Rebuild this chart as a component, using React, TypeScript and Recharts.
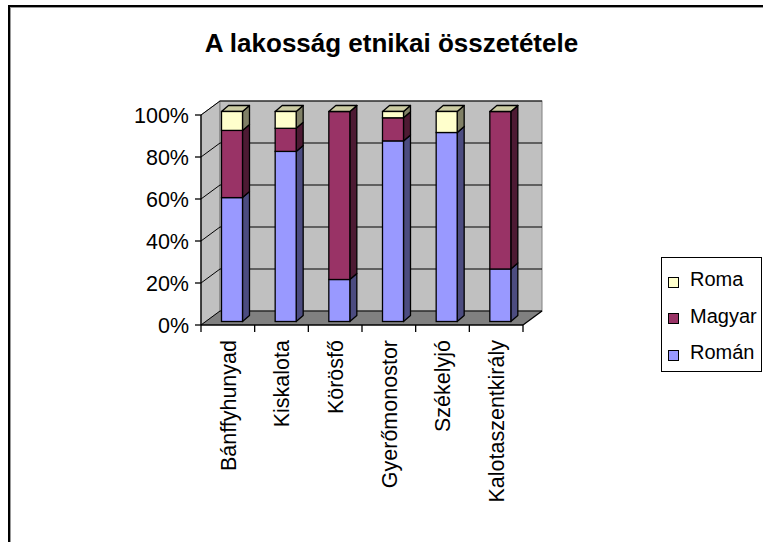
import React from "react";
import { BarChart, Bar, XAxis, YAxis, Legend, usePlotArea } from "recharts";

const CATEGORIES = ["Bánffyhunyad", "Kiskalota", "Körösfő", "Gyerőmonostor", "Székelyjó", "Kalotaszentkirály"];
const ROMAN = [59, 81, 20, 86, 90, 25];
const MAGYAR = [32, 11, 80, 11, 0, 75];
const ROMA = [9, 8, 0, 3, 10, 0];
const Y_TICKS = [0, 20, 40, 60, 80, 100];
// stacking order, bottom to top
const SERIES_NAMES = ["Román", "Magyar", "Roma"];

const data = CATEGORIES.map((name, i) => ({ name, roman: ROMAN[i], magyar: MAGYAR[i], roma: ROMA[i] }));

const FONT = '"Liberation Sans", Arial, sans-serif';
const W = 763;
const H = 542;

// depth of the 3d box and of the bars
const WALL_DX = 19;
const WALL_DY = -14;
const SHIFT_X = 4.5;
const SHIFT_Y = -3.5;
const BAR_DX = 7;
const BAR_DY = -6;

function Box3D() {
  const area = usePlotArea();
  if (!area) return null;
  const { x, y, width, height } = area;
  const x1 = x + width;
  const yb = y + height;
  const max = Y_TICKS[Y_TICKS.length - 1];
  const bw = width / CATEGORIES.length;
  return (
    <g>
      <polygon
        points={`${x},${yb} ${x1},${yb} ${x1 + WALL_DX},${yb + WALL_DY} ${x + WALL_DX},${yb + WALL_DY}`}
        fill="#808080"
      />
      <polygon
        points={`${x},${yb} ${x},${y} ${x + WALL_DX},${y + WALL_DY} ${x + WALL_DX},${yb + WALL_DY}`}
        fill="#c0c0c0"
        stroke="#808080"
      />
      <rect x={x + WALL_DX} y={y + WALL_DY} width={width} height={height} fill="#c0c0c0" stroke="#808080" />
      {Y_TICKS.map((t) => {
        const gy = yb - (height * t) / max;
        return (
          <polyline
            key={t}
            points={`${x},${gy} ${x + WALL_DX},${gy + WALL_DY} ${x1 + WALL_DX},${gy + WALL_DY}`}
            fill="none"
            stroke="#000"
            strokeWidth={1}
          />
        );
      })}
      <line x1={x} y1={y} x2={x} y2={yb} stroke="#000" strokeWidth={1.3} />
      <line x1={x} y1={yb} x2={x1} y2={yb} stroke="#000" strokeWidth={1.3} />
      <line x1={x1} y1={yb} x2={x1 + WALL_DX} y2={yb + WALL_DY} stroke="#000" strokeWidth={1.3} />
      {CATEGORIES.map((c, i) => (
        <line key={c} x1={x + i * bw} y1={yb} x2={x + i * bw} y2={yb + 7} stroke="#000" strokeWidth={1.3} />
      ))}
      <line x1={x1} y1={yb} x2={x1} y2={yb + 7} stroke="#000" strokeWidth={1.3} />
    </g>
  );
}

const make3D = (front: string, side: string, top?: string) => (props: any) => {
  const { x, y, width, height } = props;
  if (x == null || y == null) return null;
  const fx = x + SHIFT_X;
  const fy = y + SHIFT_Y;
  const r = fx + width;
  return (
    <g>
      <polygon
        points={`${r},${fy} ${r + BAR_DX},${fy + BAR_DY} ${r + BAR_DX},${fy + height + BAR_DY} ${r},${fy + height}`}
        fill={side}
        stroke="#000"
        strokeWidth={1.3}
        strokeLinejoin="round"
      />
      {top && (
        <polygon
          points={`${fx},${fy} ${fx + BAR_DX},${fy + BAR_DY} ${r + BAR_DX},${fy + BAR_DY} ${r},${fy}`}
          fill={top}
          stroke="#000"
          strokeWidth={1.3}
          strokeLinejoin="round"
        />
      )}
      <rect x={fx} y={fy} width={width} height={height} fill={front} stroke="#000" strokeWidth={1.3} />
    </g>
  );
};

const XTick = ({ x, y, payload }: any) => (
  <text
    x={x}
    y={y}
    transform={`rotate(-90, ${x}, ${y})`}
    textAnchor="end"
    dy="0.36em"
    fontSize={21.5}
    fontFamily={FONT}
    fill="#000"
  >
    {payload.value}
  </text>
);

const LegendBox = ({ payload }: any) => {
  const items = [...(payload || [])].sort(
    (a: any, b: any) => SERIES_NAMES.indexOf(b.value) - SERIES_NAMES.indexOf(a.value)
  );
  return (
    <div style={{ position: "relative", width: "100%", height: "100%" }}>
      {items.map((p: any, i: number) => (
        <div
          key={p.value}
          style={{
            position: "absolute",
            left: 6,
            top: 10 + i * 36.5,
            display: "flex",
            alignItems: "center",
            fontFamily: FONT,
            fontSize: 20,
            lineHeight: "22px",
            color: "#000",
            whiteSpace: "nowrap",
          }}
        >
          <span
            style={{
              display: "inline-block",
              width: 9,
              height: 9,
              background: p.color,
              border: "1px solid #000",
              marginRight: 11,
              marginTop: 6,
            }}
          />
          {p.value}
        </div>
      ))}
    </div>
  );
};

export default function App() {
  return (
    <div style={{ position: "absolute", left: 0, top: 0, width: W, height: H, overflow: "hidden", background: "#fff" }}>
      <div
        style={{
          position: "absolute",
          left: 8,
          top: 5,
          width: 820,
          height: 620,
          border: "2px solid #000",
          boxShadow: "inset 1px 1px 0 #999",
        }}
      />
      <div
        style={{
          position: "absolute",
          left: 0,
          top: 30,
          width: 783,
          textAlign: "center",
          fontFamily: FONT,
          fontWeight: "bold",
          fontSize: 26,
          lineHeight: "26px",
          color: "#000",
        }}
      >
        A lakosság etnikai összetétele
      </div>
      <div style={{ position: "absolute", left: 0, top: 0 }}>
        <BarChart width={W} height={H} data={data} margin={{ top: 115, right: 240, left: 141, bottom: 67 }}>
          <Box3D />
          <XAxis
            dataKey="name"
            height={150}
            axisLine={false}
            tickLine={false}
            tickSize={7}
            tickMargin={8}
            interval={0}
            tick={<XTick />}
          />
          <YAxis
            width={60}
            domain={[0, 100]}
            ticks={Y_TICKS}
            tickFormatter={(v) => `${v}%`}
            axisLine={false}
            tickLine={{ stroke: "#000", strokeWidth: 1.3 }}
            tickSize={6}
            tickMargin={6}
            tick={{ fill: "#000", fontSize: 21.5, fontFamily: FONT }}
          />
          <Legend
            layout="vertical"
            align="center"
            verticalAlign="middle"
            content={<LegendBox />}
            wrapperStyle={{
              left: 661,
              top: 257,
              width: 101,
              height: 115,
              border: "1px solid #000",
              boxSizing: "border-box",
              background: "#fff",
            }}
          />
          <Bar dataKey="roman" name={SERIES_NAMES[0]} stackId="a" barSize={21} fill="#9999FF" shape={make3D("#9999FF", "#4C4C80")} isAnimationActive={false} />
          <Bar dataKey="magyar" name={SERIES_NAMES[1]} stackId="a" barSize={21} fill="#993366" shape={make3D("#993366", "#4D1A33")} isAnimationActive={false} />
          <Bar dataKey="roma" name={SERIES_NAMES[2]} stackId="a" barSize={21} fill="#FFFFCC" shape={make3D("#FFFFCC", "#808066", "#CCCCA3")} isAnimationActive={false} />
        </BarChart>
      </div>
    </div>
  );
}
